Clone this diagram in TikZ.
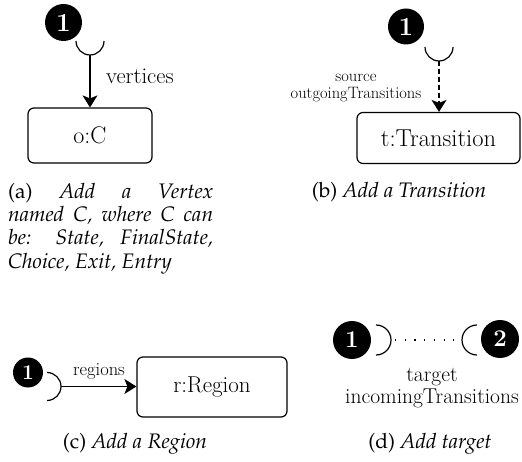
\documentclass[tikz,border=0pt]{standalone}
\usepackage[T1,TU]{fontenc}
\usetikzlibrary{arrows.meta}
% Palatino for the sub-captions, Latin Modern everywhere else
\newcommand\capfont{\fontencoding{T1}\fontfamily{ppl}\selectfont}
\tikzset{
  objbox/.style={draw, line width=1.2pt, rounded corners=6pt, inner sep=0pt},
  numdot/.style={circle, fill=black, text=white, inner sep=0pt,
                 font=\fontsize{26}{26}\selectfont\bfseries},
  cup/.style={line width=1.2pt},
  link/.style={line width=1.2pt, -{Stealth[length=12pt,width=15pt,inset=3pt]}},
  lbl/.style={inner sep=0pt, align=center},
  caption/.style={inner sep=0pt, font=\capfont\fontsize{21}{23.3}\selectfont},
}
\begin{document}
\begin{tikzpicture}[x=1pt, y=-1pt]
\useasboundingbox (0,0) rectangle (522,462);

% (a) add a vertex
\node[numdot, minimum size=37pt] (a1) at (63.5,22.5) {1};
\draw[cup] (76,41) arc[start angle=180, end angle=0, radius=14];
\coordinate (ca) at (90,55);
\node[objbox, minimum width=124pt, minimum height=55pt,
      font=\fontsize{24}{24}\selectfont] (oc) at (90,135.5) {o:C};
\draw[link] (ca) -- (oc.north);
\node[lbl, font=\fontsize{22.5}{22.5}\selectfont, anchor=west] (lv) at (106,76) {vertices};
\node[caption, text width=205pt, align=justify, anchor=north west] (capa) at (8,183)
  {(a) \textit{Add a Vertex}\linebreak
   \textit{named C, where C can}\linebreak
   \textit{be: State, FinalState,}\linebreak
   \textit{Choice, Exit, Entry}};

% (b) add a transition
\node[numdot, minimum size=36pt] (b1) at (406,26.5) {1};
\draw[cup] (425,47) arc[start angle=180, end angle=0, radius=14];
\coordinate (cb) at (439,61);
\node[objbox, minimum width=163pt, minimum height=51pt,
      font=\fontsize{24.5}{24.5}\selectfont] (tt) at (438.5,138) {t:Transition};
\draw[link, dash pattern=on 5pt off 3pt] (cb) -- (cb |- tt.north);
\node[lbl, font=\fontsize{16.5}{17.5}\selectfont] (lb) at (356,88)
  {source\\outgoingTransitions};
\node[caption, anchor=base] (capb) at (399,198) {(b) \textit{Add a Transition}};

% (c) add a region
\node[numdot, minimum size=30pt, font=\fontsize{21}{21}\selectfont\bfseries] (c1) at (28,372.5) {1};
\draw[cup] (47,372.5) arc[start angle=-90, end angle=90, radius=14];
\coordinate (cc) at (61,386.5);
\node[objbox, minimum width=150pt, minimum height=60pt,
      font=\fontsize{23}{23}\selectfont] (rr) at (212,387) {r:Region};
\draw[link] (cc) -- (cc -| rr.west);
\node[lbl, font=\fontsize{18.5}{18.5}\selectfont] (lr) at (99,371) {regions};
\node[caption, anchor=base] (capc) at (135,448) {(c) \textit{Add a Region}};

% (d) add target
\node[numdot, minimum size=38pt, font=\fontsize{24}{24}\selectfont\bfseries] (d1) at (352,340) {1};
\node[numdot, minimum size=38pt, font=\fontsize{24}{24}\selectfont\bfseries] (d2) at (500,339) {2};
\draw[cup] (376,325) arc[start angle=-90, end angle=90, radius=15];
\draw[cup] (477,325) arc[start angle=-90, end angle=-270, radius=15];
\coordinate (dl) at (391,340);
\coordinate (dr) at (462,340);
\draw[line width=1.2pt, dash pattern=on 1.2pt off 8.5pt] (dl) ++(4,0) -- (dr);
\node[lbl, font=\fontsize{21.5}{22.5}\selectfont] (ld) at (432,388)
  {target\\incomingTransitions};
\node[caption, anchor=base] (capd) at (430,448) {(d) \textit{Add target}};
\end{tikzpicture}
\end{document}
